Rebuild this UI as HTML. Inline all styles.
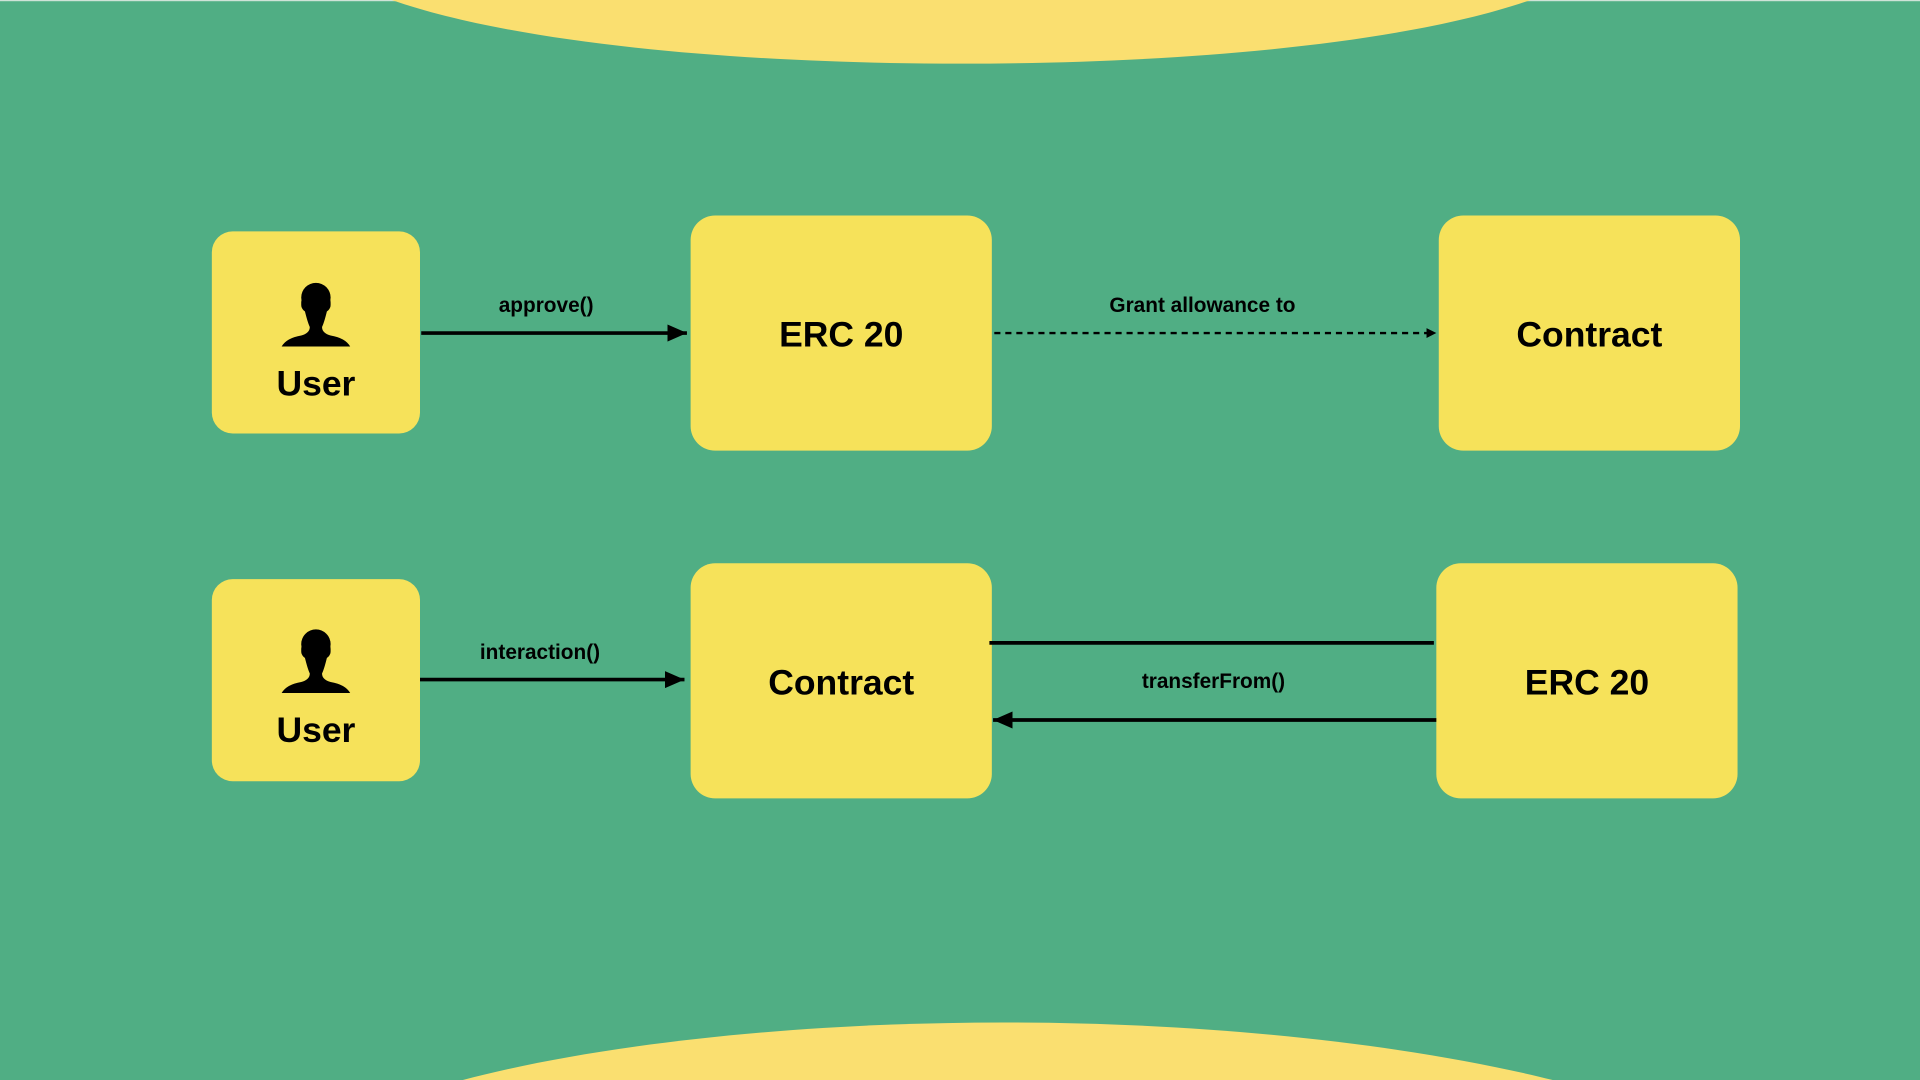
<!DOCTYPE html>
<html><head><meta charset="utf-8"><style>
html,body{margin:0;padding:0;background:#50ae84;}
svg{display:block;}
text{font-family:"Liberation Sans",sans-serif;font-weight:bold;fill:#000;text-anchor:middle;}
</style></head><body>
<svg width="1920" height="1080" viewBox="0 0 1568 882" preserveAspectRatio="none" xmlns="http://www.w3.org/2000/svg">
<defs>
<marker id="ah" markerWidth="10" markerHeight="10" refX="9" refY="5" orient="auto" markerUnits="userSpaceOnUse"><path d="M0,0 L10,5 L0,10 Z" fill="#000"/></marker>
<marker id="ahs" markerWidth="8" markerHeight="8" refX="7" refY="4" orient="auto" markerUnits="userSpaceOnUse"><path d="M0,0 L8,4 L0,8 Z" fill="#000"/></marker>
<marker id="ahb" markerWidth="18" markerHeight="14" refX="16" refY="7" orient="auto" markerUnits="userSpaceOnUse"><path d="M0,0 L16,7 L0,14 Z" fill="#000"/></marker>
<g id="user"><circle cx="0" cy="-2" r="12" fill="#000"/><path d="M-10,5 Q-7,18 -5,22 Q-5,27 -12,29 Q-24,31 -28,38 L28,38 Q24,31 12,29 Q5,27 5,22 Q7,18 10,5 Z" fill="#000"/><rect x="-12" y="-4" width="24" height="14" rx="6" fill="#000"/></g>
</defs>
<rect width="1568" height="882" fill="#50ae84"/>
<rect width="1568" height="1" fill="#cfe3d8"/>
<path d="M320,0 C420,35 600,52 785,52 C970,52 1150,35 1250,0 Z" fill="#fadf70"/>
<path d="M378,882 C480,855 640,835 820,835 C1000,835 1160,855 1268,882 Z" fill="#fadf70"/>
<g fill="#f6e25a">
<rect x="173" y="189" width="170" height="165" rx="17"/>
<rect x="564" y="176" width="246" height="192" rx="20"/>
<rect x="1175" y="176" width="246" height="192" rx="20"/>
<rect x="173" y="473" width="170" height="165" rx="17"/>
<rect x="564" y="460" width="246" height="192" rx="20"/>
<rect x="1173" y="460" width="246" height="192" rx="20"/>
</g>
<use href="#user" x="258" y="245"/>
<use href="#user" x="258" y="528"/>
<text x="258" y="323" font-size="29">User</text>
<text x="258" y="606" font-size="29">User</text>
<text x="687" y="283" font-size="29">ERC 20</text>
<text x="1298" y="283" font-size="29">Contract</text>
<text x="687" y="567" font-size="29">Contract</text>
<text x="1296" y="567" font-size="29">ERC 20</text>
<line x1="344" y1="272" x2="561" y2="272" stroke="#000" stroke-width="3" marker-end="url(#ahb)"/>
<text x="446" y="255" font-size="17">approve()</text>
<line x1="812" y1="272" x2="1172" y2="272" stroke="#000" stroke-width="2" stroke-dasharray="5,4" marker-end="url(#ahs)"/>
<text x="982" y="255" font-size="17">Grant allowance to</text>
<line x1="343" y1="555" x2="559" y2="555" stroke="#000" stroke-width="3" marker-end="url(#ahb)"/>
<text x="441" y="538" font-size="17">interaction()</text>
<line x1="808" y1="525" x2="1171" y2="525" stroke="#000" stroke-width="3"/>
<line x1="1173" y1="588" x2="811" y2="588" stroke="#000" stroke-width="3" marker-end="url(#ahb)"/>
<text x="991" y="562" font-size="17">transferFrom()</text>
</svg>
</body></html>
